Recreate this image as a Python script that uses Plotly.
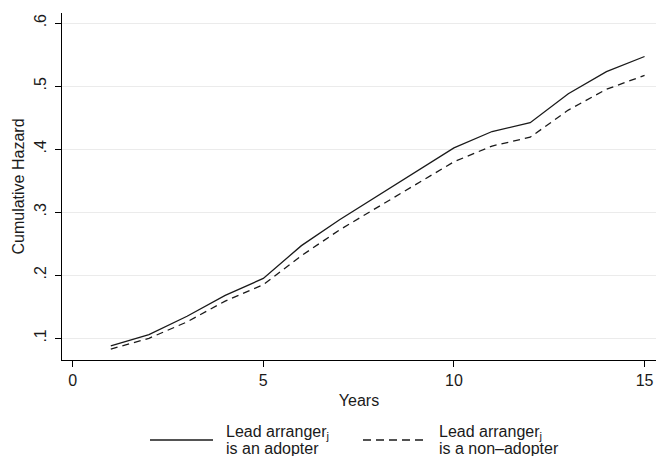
import plotly.graph_objects as go

# Years since origination
years = list(range(1, 16))

# Cumulative hazard estimates for each group
hazard_adopter = [0.088, 0.106, 0.135, 0.168, 0.195, 0.247, 0.288, 0.326,
                  0.364, 0.402, 0.428, 0.442, 0.488, 0.523, 0.547]
hazard_non_adopter = [0.083, 0.100, 0.126, 0.159, 0.185, 0.231, 0.272, 0.308,
                      0.344, 0.380, 0.405, 0.419, 0.462, 0.495, 0.517]

x_ticks = [0, 5, 10, 15]
y_ticks = [0.1, 0.2, 0.3, 0.4, 0.5, 0.6]
y_tick_labels = [".1", ".2", ".3", ".4", ".5", ".6"]

FONT = "Liberation Sans, Arial, Helvetica, sans-serif"
INK = "#1a1a1a"

fig = go.Figure()
fig.add_trace(go.Scatter(x=years, y=hazard_adopter, mode="lines",
                         line=dict(color=INK, width=1.3), showlegend=False))
fig.add_trace(go.Scatter(x=years, y=hazard_non_adopter, mode="lines",
                         line=dict(color=INK, width=1.3, dash="7px,5px"),
                         showlegend=False))

# Hand-built legend below the axis title
W, H, L, B = 594, 347, 62, 96


def px_x(p):
    return (p - L) / W


def px_y(p):
    return (456 - B - p) / H


fig.add_shape(type="line", xref="paper", yref="paper",
              x0=px_x(150), x1=px_x(213), y0=px_y(440), y1=px_y(440),
              line=dict(color=INK, width=1.3))
fig.add_shape(type="line", xref="paper", yref="paper",
              x0=px_x(363), x1=px_x(426), y0=px_y(440), y1=px_y(440),
              line=dict(color=INK, width=1.3, dash="8px,5px"))

legend_text = [
    (224, "Lead arranger<sub>j</sub>", "is an adopter"),
    (437, "Lead arranger<sub>j</sub>", "is a non\u2013adopter"),
]
for left, line1, line2 in legend_text:
    for text, yc in ((line1, 432), (line2, 448)):
        fig.add_annotation(x=px_x(left), y=px_y(yc), xref="paper", yref="paper",
                           text=text, showarrow=False, xanchor="left",
                           yanchor="middle",
                           font=dict(family=FONT, size=16, color=INK))

fig.update_layout(
    width=656, height=456,
    margin=dict(l=L, r=0, t=13, b=B),
    paper_bgcolor="white", plot_bgcolor="white",
    font=dict(family=FONT, size=16, color=INK),
    xaxis=dict(
        range=[-0.28, 15.3], tickvals=x_ticks, ticks="outside", ticklen=6,
        tickcolor="black", showline=True, linecolor="black", linewidth=1,
        showgrid=False, zeroline=False,
        title=dict(text="Years", standoff=6, font=dict(size=16)),
    ),
    yaxis=dict(
        range=[0.0656, 0.616], tickvals=y_ticks, ticktext=y_tick_labels,
        tickangle=-90, ticks="outside", ticklen=6, tickcolor="black",
        ticklabelstandoff=3,
        showline=True, linecolor="black", linewidth=1,
        showgrid=True, gridcolor="#ebebeb", gridwidth=1, zeroline=False,
        title=dict(text="Cumulative Hazard", standoff=2, font=dict(size=16)),
    ),
)

fig.write_html("out.html")
